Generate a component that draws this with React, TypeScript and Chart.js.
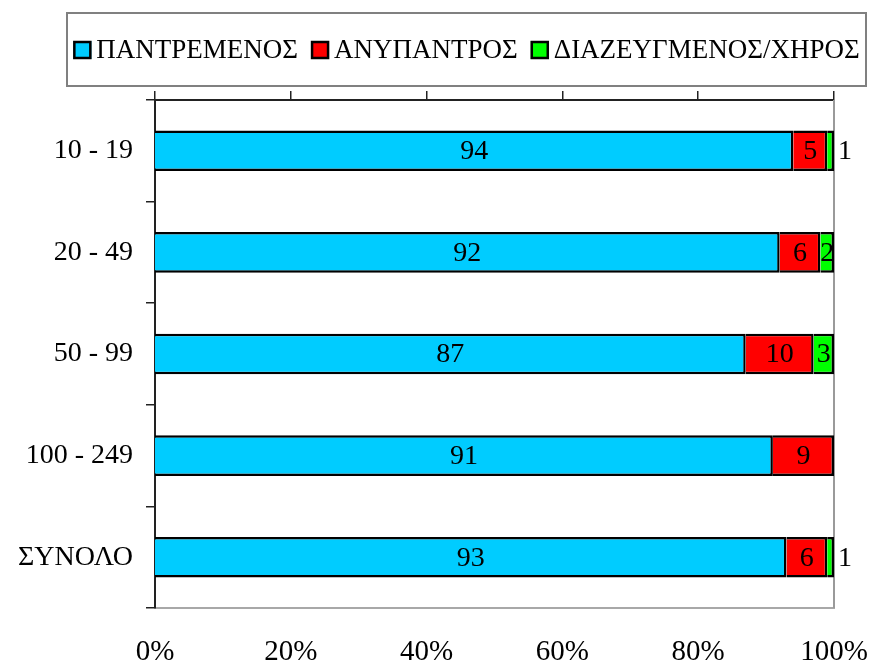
import React, { useEffect, useRef } from 'react';
import { Chart, registerables } from 'chart.js';

Chart.register(...registerables);

const categories = ['10 - 19', '20 - 49', '50 - 99', '100 - 249', 'ΣΥΝΟΛΟ'];
const seriesNames = ['ΠΑΝΤΡΕΜΕΝΟΣ', 'ΑΝΥΠΑΝΤΡΟΣ', 'ΔΙΑΖΕΥΓΜΕΝΟΣ/ΧΗΡΟΣ'];
const married = [94, 92, 87, 91, 93];
const single = [5, 6, 10, 9, 6];
const divorcedWidowed = [1, 2, 3, 0, 1];
const seriesColors = ['#00CCFF', '#FF0000', '#00FF00'];
const xMin = 0;
const xMax = 100;
const xStep = 20;

const FONT = "'Liberation Serif', 'Times New Roman', serif";

const valueLabels = {
  id: 'valueLabels',
  afterDatasetsDraw(chart: any) {
    const ctx = chart.ctx;
    ctx.save();
    ctx.font = `28px ${FONT}`;
    ctx.fillStyle = '#000';
    ctx.textBaseline = 'middle';
    chart.data.datasets.forEach((ds: any, di: number) => {
      const meta = chart.getDatasetMeta(di);
      meta.data.forEach((el: any, i: number) => {
        const v = ds.data[i];
        if (!v) return;
        const { x, base, y } = el.getProps(['x', 'base', 'y'], true);
        const segW = Math.abs(x - base);
        const txt = String(v);
        const tw = ctx.measureText(txt).width;
        if (tw > segW + 2) {
          ctx.textAlign = 'left';
          ctx.fillText(txt, Math.max(x, base) + 4, y + 1);
        } else {
          ctx.textAlign = 'center';
          ctx.fillText(txt, (x + base) / 2, y + 1);
        }
      });
    });
    ctx.restore();
  },
};

const plotFrame = {
  id: 'plotFrame',
  beforeDatasetsDraw(chart: any) {
    const { ctx, chartArea } = chart;
    ctx.save();
    ctx.strokeStyle = '#9a9a9a';
    ctx.lineWidth = 2;
    ctx.beginPath();
    ctx.moveTo(chartArea.right, chartArea.top);
    ctx.lineTo(chartArea.right, chartArea.bottom);
    ctx.stroke();
    ctx.restore();
  },
};

const boxLegend = {
  id: 'boxLegend',
  afterDraw(chart: any) {
    const ctx = chart.ctx;
    ctx.save();
    const left = 67, top = 13, right = 866, bottom = 86;
    ctx.strokeStyle = '#808080';
    ctx.lineWidth = 2;
    ctx.strokeRect(left, top, right - left, bottom - top);
    ctx.font = `27px ${FONT}`;
    const sq = 18, gapText = 5, gapItem = 13;
    const ds = chart.data.datasets;
    const widths = ds.map((d: any) => ctx.measureText(d.label).width);
    const total = widths.reduce((a: number, w: number) => a + sq + gapText + w, 0) + gapItem * (ds.length - 1);
    let x = (left + right) / 2 - total / 2;
    const cy = 50;
    ctx.textBaseline = 'middle';
    ctx.textAlign = 'left';
    ds.forEach((d: any, i: number) => {
      ctx.fillStyle = d.backgroundColor;
      ctx.fillRect(x, cy - sq / 2, sq, sq);
      ctx.strokeStyle = '#000';
      ctx.lineWidth = 2.5;
      ctx.strokeRect(x + 1, cy - sq / 2 + 1, sq - 2, sq - 2);
      ctx.fillStyle = '#000';
      ctx.fillText(d.label, x + sq + gapText, cy + 1);
      x += sq + gapText + widths[i] + gapItem;
    });
    ctx.restore();
  },
};

export default function App() {
  const ref = useRef<HTMLCanvasElement | null>(null);
  useEffect(() => {
    if (!ref.current) return;
    const values = [married, single, divorcedWidowed];
    const chart = new Chart(ref.current, {
      type: 'bar',
      data: {
        labels: categories,
        datasets: seriesNames.map((name, i) => ({
          label: name,
          data: values[i],
          backgroundColor: seriesColors[i],
          borderColor: '#000',
          borderWidth: 2.5,
          borderSkipped: 'start',
          barPercentage: 0.4,
          categoryPercentage: 1.0,
          xAxisID: 'x',
        })),
      },
      options: {
        indexAxis: 'y',
        animation: false,
        responsive: false,
        devicePixelRatio: 1,
        layout: { padding: { left: 0, right: 37, top: 0, bottom: 0 } },
        plugins: {
          legend: { display: false },
          tooltip: { enabled: false },
        },
        scales: {
          x: {
            type: 'linear',
            position: 'bottom',
            stacked: true,
            min: xMin,
            max: xMax,
            ticks: {
              stepSize: xStep,
              color: '#000',
              padding: 27,
              font: { family: FONT, size: 29 },
              callback: (v: any) => v + '%',
            },
            grid: { display: false, drawTicks: false },
            border: { display: true, color: '#a8a8a8', width: 2 },
            afterFit: (s: any) => { s.height = 58; s.paddingLeft = 0; s.paddingRight = 0; },
          },
          x2: {
            type: 'linear',
            position: 'top',
            min: xMin,
            max: xMax,
            ticks: { display: false, stepSize: xStep },
            grid: { display: true, drawOnChartArea: false, drawTicks: true, tickLength: 9, color: '#222', lineWidth: 1.5 },
            border: { display: true, color: '#222', width: 2 },
            afterFit: (s: any) => { s.height = 100; s.paddingLeft = 0; s.paddingRight = 0; },
          },
          y: {
            type: 'category',
            stacked: true,
            offset: true,
            ticks: {
              color: '#000',
              padding: 13,
              font: { family: FONT, size: 28 },
            },
            grid: { display: true, offset: true, drawOnChartArea: false, drawTicks: true, tickLength: 9, color: '#222', lineWidth: 1.5 },
            border: { display: true, color: '#222', width: 2 },
            afterFit: (s: any) => { s.width = 155; s.paddingTop = 0; s.paddingBottom = 0; },
          },
        },
      } as any,
      plugins: [plotFrame, valueLabels, boxLegend],
    });
    return () => chart.destroy();
  }, []);
  return (
    <canvas
      ref={ref}
      width={871}
      height={666}
      style={{ position: 'fixed', left: 0, top: 0, display: 'block', background: '#fff' }}
    />
  );
}
